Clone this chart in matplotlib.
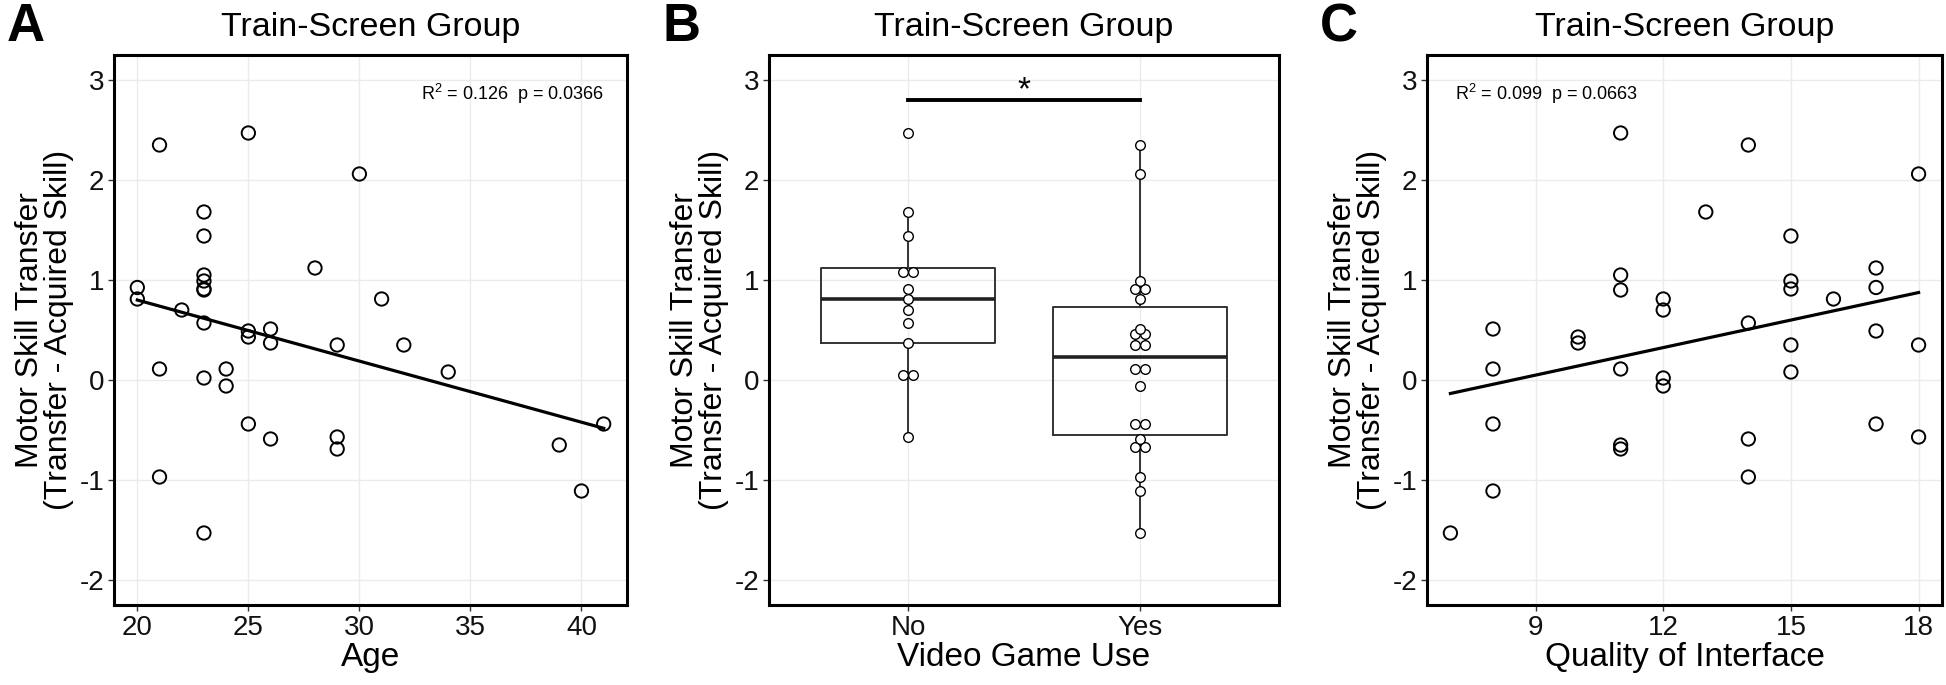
import numpy as np
import matplotlib.pyplot as plt

# one entry per participant (Train-Screen group)
transfer = [2.47, 2.35, 2.06, 1.68, 1.44, 1.12, 1.05, 0.99, 0.925, 0.91, 0.90, 0.81, 0.81,
            0.70, 0.57, 0.51, 0.49, 0.43, 0.37, 0.35, 0.35, 0.11, 0.11, 0.08, 0.02, -0.06,
            -0.44, -0.44, -0.57, -0.59, -0.65, -0.69, -0.97, -1.11, -1.53]
age = [25, 21, 30, 23, 23, 28, 23, 23, 20, 23, 23, 20, 31,
       22, 23, 26, 25, 25, 26, 29, 32, 21, 24, 34, 23, 24,
       25, 41, 29, 26, 39, 29, 21, 40, 23]
video_game = ['No', 'Yes', 'Yes', 'No', 'No', 'No', 'No', 'Yes', 'Yes', 'No', 'Yes', 'No', 'Yes',
              'No', 'No', 'Yes', 'Yes', 'Yes', 'No', 'Yes', 'Yes', 'Yes', 'Yes', 'No', 'No', 'Yes',
              'Yes', 'Yes', 'No', 'Yes', 'Yes', 'Yes', 'Yes', 'Yes', 'Yes']
quality = [11, 14, 18, 13, 15, 17, 11, 15, 17, 15, 11, 12, 16,
           12, 14, 8, 17, 10, 10, 15, 18, 8, 11, 15, 12, 12,
           8, 17, 18, 14, 11, 11, 14, 8, 7]

groups = ['No', 'Yes']
y_ticks = [-2, -1, 0, 1, 2, 3]
age_ticks = [20, 25, 30, 35, 40]
quality_ticks = [9, 12, 15, 18]
stats_A = 'R$^2$ = 0.126  p = 0.0366'
stats_C = 'R$^2$ = 0.099  p = 0.0663'

plt.rcParams['font.family'] = ['Liberation Sans', 'DejaVu Sans']
plt.rcParams['mathtext.default'] = 'regular'
plt.rcParams['axes.unicode_minus'] = False

transfer = np.array(transfer)
age = np.array(age)
quality = np.array(quality)
video_game = np.array(video_game)

W, H = 1946, 685
fig = plt.figure(figsize=(W / 100, H / 100), dpi=100)


def px_axes(left, top, right, bottom):
    return fig.add_axes([left / W, 1 - bottom / H, (right - left) / W, (bottom - top) / H])


def style(ax, letter, left_px):
    ax.set_ylim(-2.25, 3.25)
    ax.set_yticks(y_ticks)
    ax.grid(True, color='#EBEBEB', lw=1.0)
    ax.set_axisbelow(True)
    for s in ax.spines.values():
        s.set_linewidth(2.2)
        s.set_color('black')
    ax.tick_params(length=4, width=1, color='#333333', labelsize=20, pad=3, labelcolor='#111111')
    ax.set_ylabel('Motor Skill Transfer\n(Transfer - Acquired Skill)', fontsize=23,
                  linespacing=0.95, labelpad=4)
    ax.set_title('Train-Screen Group', fontsize=24.5, pad=14)
    fig.text((left_px - 107) / W, 1 - 2 / H, letter, fontsize=38, fontweight='bold', va='top')


def reg_line(ax, x, y):
    slope, icpt = np.polyfit(x, y, 1)
    xs = np.array([x.min(), x.max()])
    ax.plot(xs, icpt + slope * xs, color='black', lw=2.3, zorder=2)


def dot_bins(vals, bw):
    # dotdensity binning like geom_dotplot(binaxis='y', stackdir='center')
    v = np.sort(vals)
    offs, ys = [], []
    i = 0
    while i < len(v):
        end = v[i] + bw
        j = i
        while j < len(v) and v[j] < end - 1e-9:
            j += 1
        chunk = v[i:j]
        center = (chunk.min() + chunk.max()) / 2
        n = len(chunk)
        for k in range(n):
            offs.append(k - (n - 1) / 2)
            ys.append(center)
        i = j
    return np.array(offs), np.array(ys)


# A: age
axA = px_axes(114, 55, 627, 605)
axA.scatter(age, transfer, s=92, facecolors='none', edgecolors='black', linewidths=1.4, zorder=3)
reg_line(axA, age, transfer)
axA.set_xlim(18.95, 42.05)
axA.set_xticks(age_ticks)
axA.set_xlabel('Age', fontsize=24, labelpad=1)
axA.text(41, 2.86, stats_A, fontsize=13, ha='right', va='center')
style(axA, 'A', 114)

# B: video game use
axB = px_axes(769, 55, 1279, 605)
data_B = [transfer[video_game == g] for g in groups]
axB.boxplot(data_B, positions=[1, 2], widths=0.75, showfliers=False, showcaps=False, whis=1.5,
            boxprops=dict(color='#333333', lw=1.4),
            whiskerprops=dict(color='#333333', lw=1.4),
            medianprops=dict(color='#222222', lw=2.6))
for pos, vals in zip([1, 2], data_B):
    offs, ys = dot_bins(vals, 0.075)
    axB.scatter(pos + offs * 0.04, ys, s=48, facecolors='white', edgecolors='black',
                linewidths=1.0, zorder=3)
axB.plot([1, 2], [2.8, 2.8], color='black', lw=2.8, zorder=3)
axB.text(1.5, 2.74, '*', fontsize=24, ha='center', va='bottom')
axB.set_xlim(0.4, 2.6)
axB.set_xticks([1, 2])
axB.set_xticklabels(groups)
axB.set_xlabel('Video Game Use', fontsize=24, labelpad=1)
style(axB, 'B', 769)

# C: quality of interface
axC = px_axes(1427, 55, 1942, 605)
axC.scatter(quality, transfer, s=92, facecolors='none', edgecolors='black', linewidths=1.4, zorder=3)
reg_line(axC, quality, transfer)
axC.set_xlim(6.45, 18.55)
axC.set_xticks(quality_ticks)
axC.set_xlabel('Quality of Interface', fontsize=24, labelpad=1)
axC.text(7.1, 2.86, stats_C, fontsize=13, ha='left', va='center')
style(axC, 'C', 1427)

fig.savefig('out.png', dpi=100, facecolor='white')
